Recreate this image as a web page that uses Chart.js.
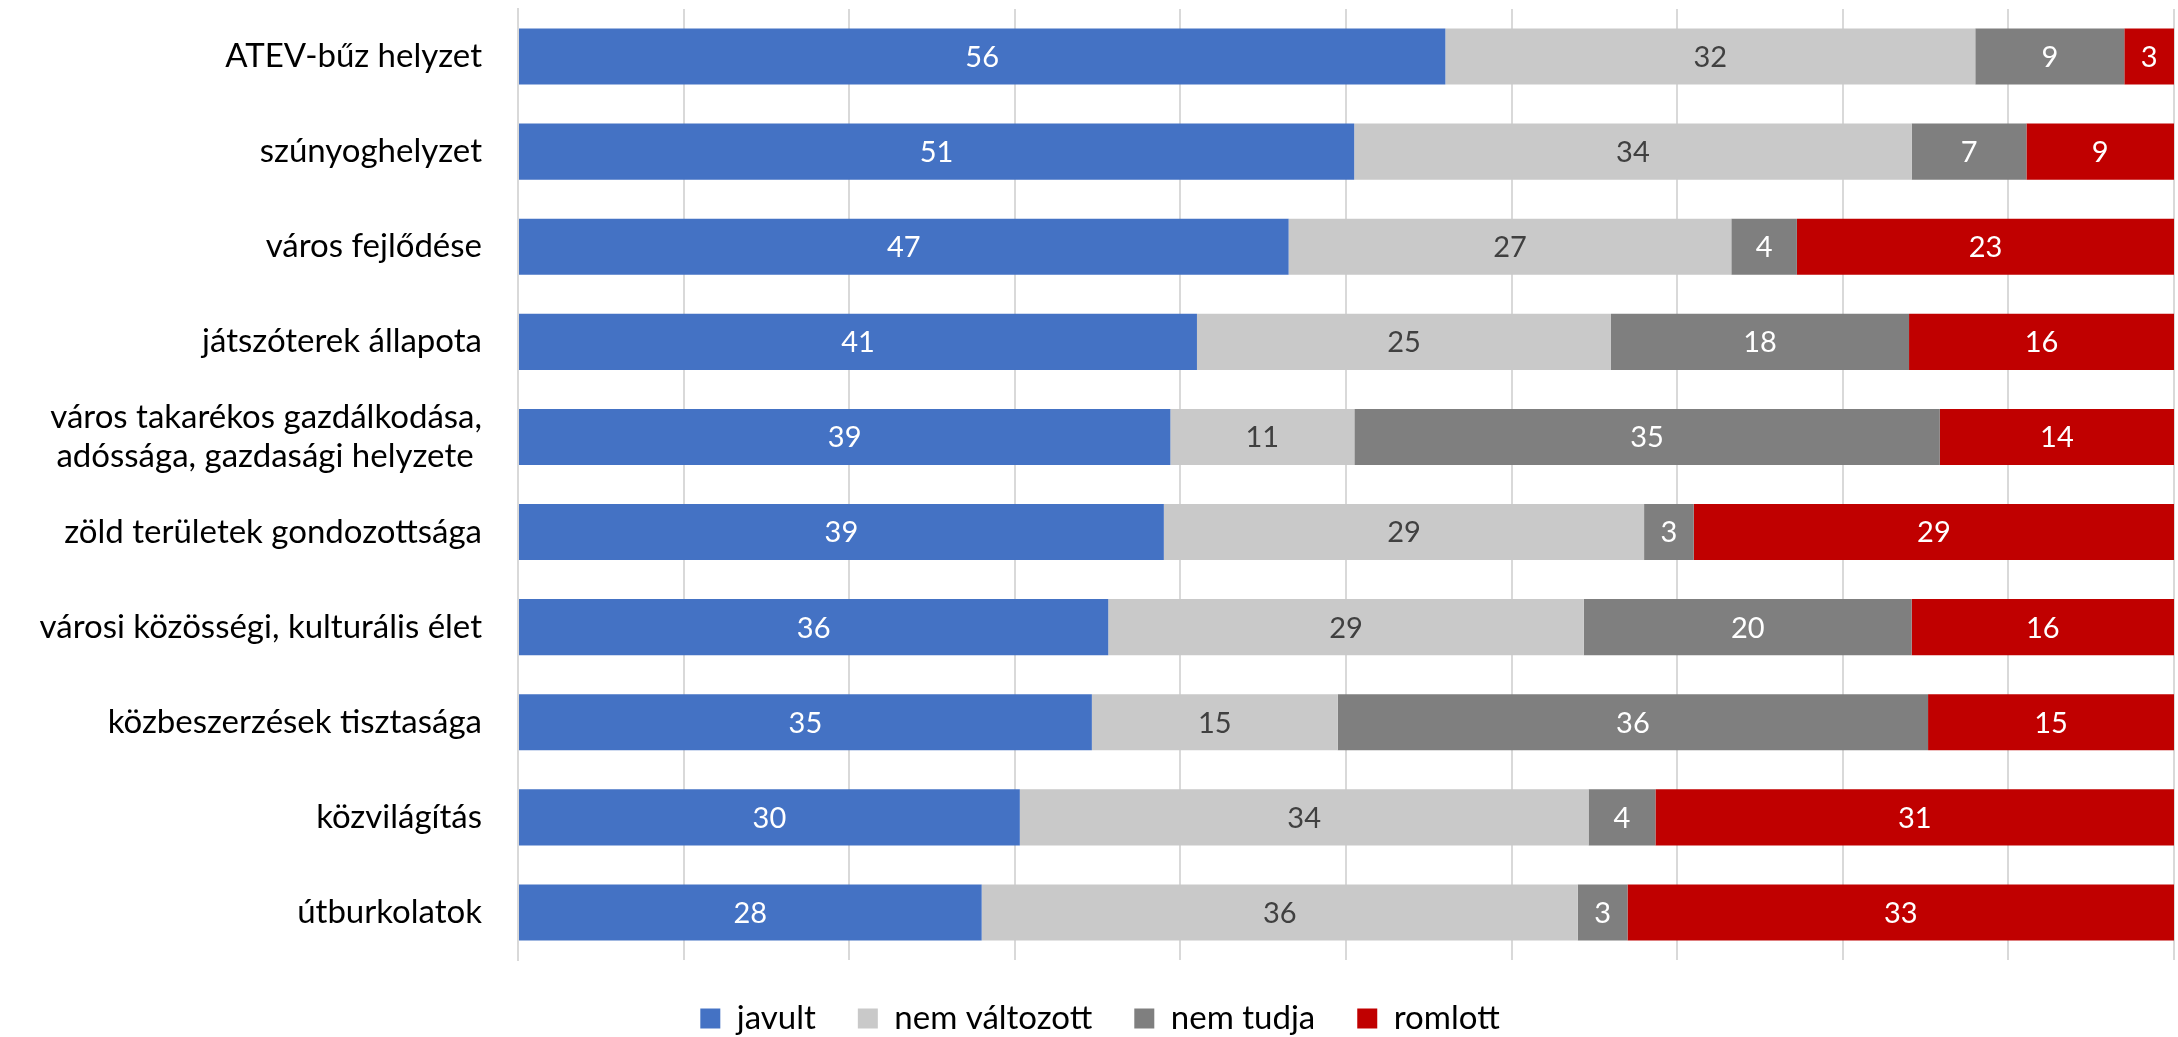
<!DOCTYPE html>
<html>
<head>
<meta charset="utf-8">
<script src="https://cdn.jsdelivr.net/npm/chart.js@4/dist/chart.umd.min.js"></script>
<style>
  html, body { margin: 0; padding: 0; background: #fff; }
  #wrap { width: 2178px; height: 1037px; }
</style>
</head>
<body>
<div id="wrap"><canvas id="chart" width="2178" height="1037"></canvas></div>
<script>
// categories (top to bottom)
const categories = [
  "ATEV-bűz helyzet",
  "szúnyoghelyzet",
  "város fejlődése",
  "játszóterek állapota",
  ["város takarékos gazdálkodása,", "adóssága, gazdasági helyzete "],
  "zöld területek gondozottsága",
  "városi közösségi, kulturális élet",
  "közbeszerzések tisztasága",
  "közvilágítás",
  "útburkolatok"
];

// answers in percent, as labelled on the bars
const javult       = [56, 51, 47, 41, 39, 39, 36, 35, 30, 28];
const nemValtozott = [32, 34, 27, 25, 11, 29, 29, 15, 34, 36];
const nemTudja     = [ 9,  7,  4, 18, 35,  3, 20, 36,  4,  3];
const romlott      = [ 3,  9, 23, 16, 14, 29, 16, 15, 31, 33];

const seriesNames = ["javult", "nem változott", "nem tudja", "romlott"];
const seriesValues = [javult, nemValtozott, nemTudja, romlott];
const colors = ["#4472C4", "#C9C9C9", "#7F7F7F", "#C00000"];
const labelColors = ["#FFFFFF", "#404040", "#FFFFFF", "#FFFFFF"];

// 100% stacked: each row is scaled to its own total
const rowTotals = categories.map((c, i) => seriesValues.reduce((s, arr) => s + arr[i], 0));

const FONT = "Lato, 'Open Sans', sans-serif";

// draws the raw value in the middle of each segment
const barLabels = {
  id: "barLabels",
  afterDatasetsDraw(chart) {
    const ctx = chart.ctx;
    ctx.save();
    ctx.font = "29px " + FONT;
    ctx.textAlign = "center";
    ctx.textBaseline = "middle";
    chart.data.datasets.forEach((ds, di) => {
      const meta = chart.getDatasetMeta(di);
      meta.data.forEach((bar, i) => {
        const x = (bar.x + bar.base) / 2;
        ctx.fillStyle = labelColors[di];
        ctx.fillText(String(ds.raw[i]), x, bar.y + 1);
      });
    });
    ctx.restore();
  }
};

new Chart(document.getElementById("chart"), {
  type: "bar",
  data: {
    labels: categories,
    datasets: seriesNames.map((name, k) => ({
      label: name,
      raw: seriesValues[k],
      data: seriesValues[k].map((v, i) => v / rowTotals[i] * 100),
      backgroundColor: colors[k],
      borderWidth: 0,
      barPercentage: 0.59,
      categoryPercentage: 1
    }))
  },
  options: {
    indexAxis: "y",
    responsive: false,
    animation: false,
    layout: { padding: { top: 9, right: 4, bottom: -8, left: 26 } },
    scales: {
      x: {
        stacked: true,
        min: 0,
        max: 100,
        ticks: { display: false, stepSize: 10 },
        grid: { color: "#D9D9D9", lineWidth: 2, drawTicks: false },
        border: { display: false }
      },
      y: {
        stacked: true,
        ticks: {
          color: "#000000",
          font: { family: FONT, size: 33 },
          padding: 36
        },
        grid: { display: false, drawTicks: false },
        border: { display: true, color: "#D9D9D9", width: 2 },
        afterFit(scale) {
          scale.width = 492;
          scale.paddingTop = 0;
          scale.paddingBottom = 0;
        }
      }
    },
    plugins: {
      legend: {
        position: "bottom",
        labels: {
          color: "#000000",
          font: { family: FONT, size: 33 },
          boxWidth: 20,
          boxHeight: 20,
          padding: 42
        }
      },
      tooltip: { enabled: false }
    }
  },
  plugins: [barLabels]
});
</script>
</body>
</html>
